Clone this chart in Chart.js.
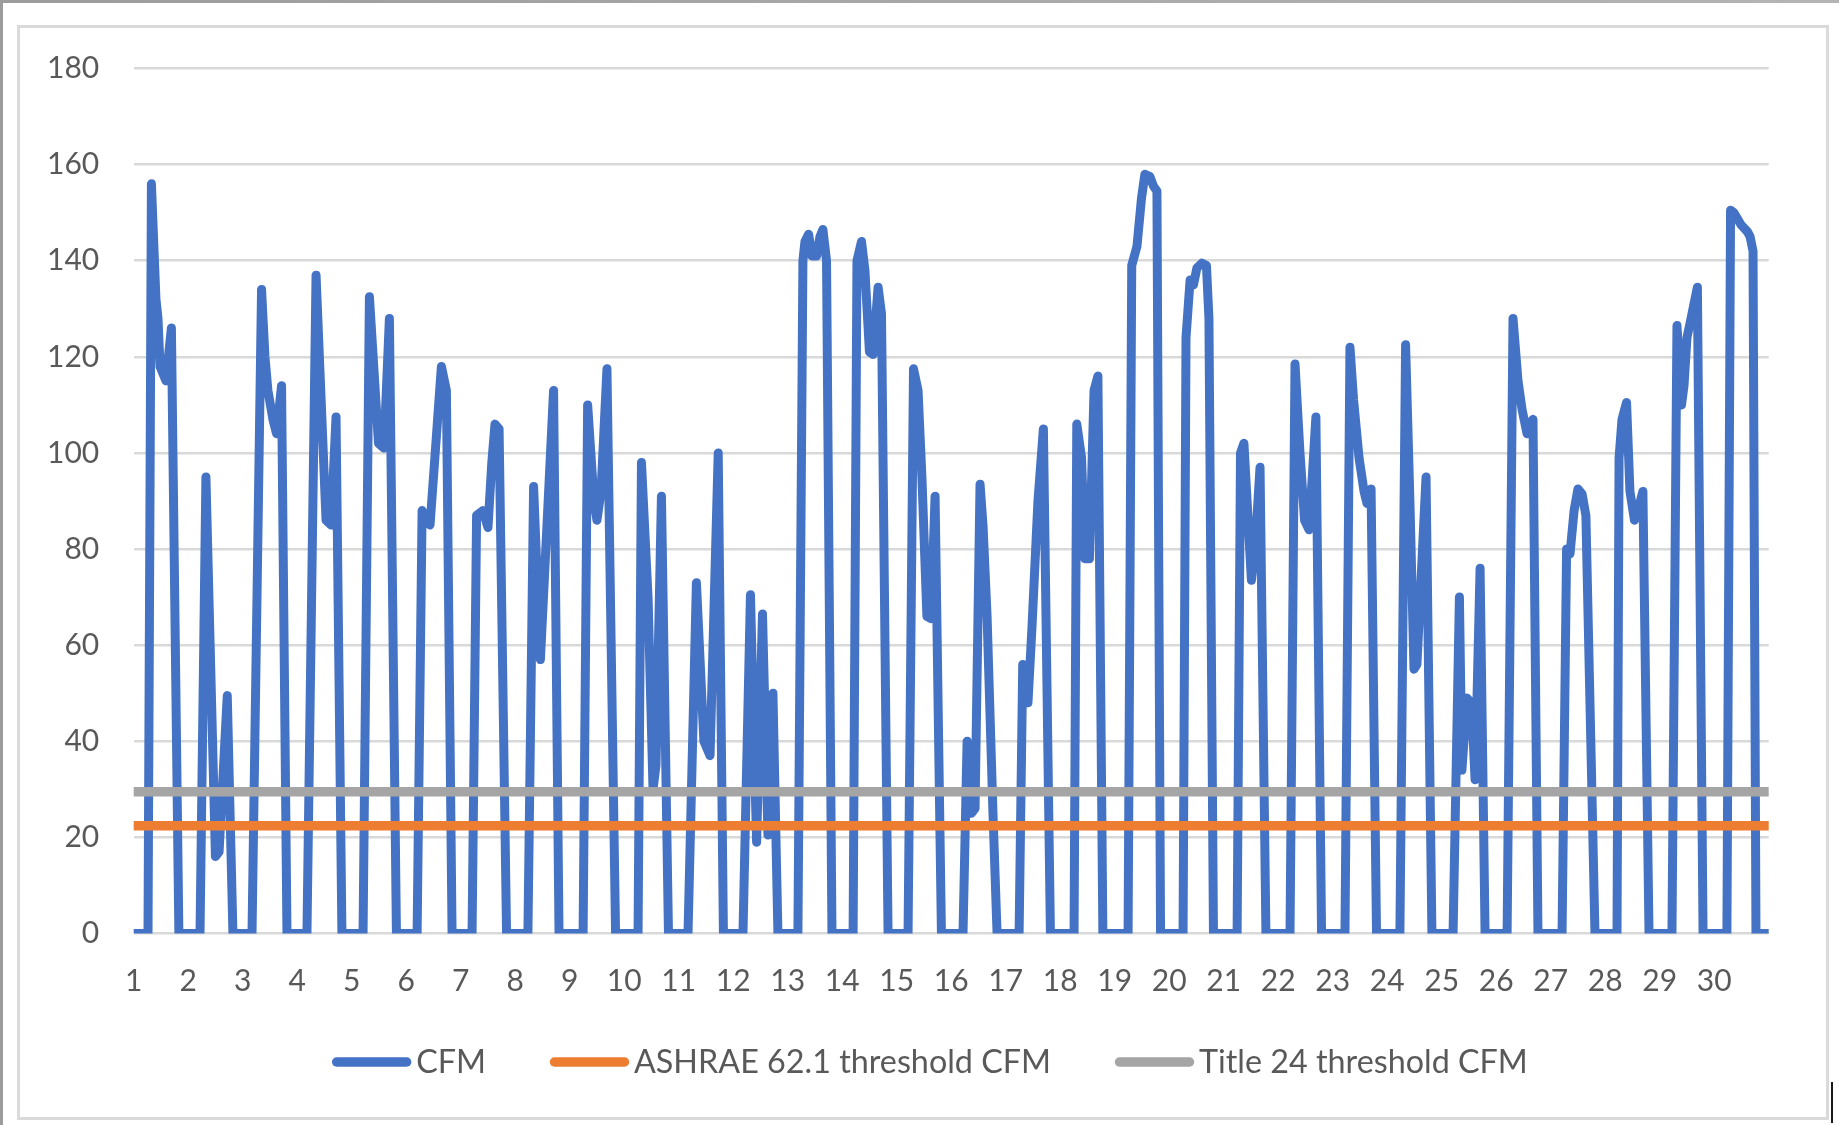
<!DOCTYPE html>
<html>
<head>
<meta charset="utf-8">
<title>Daily CFM vs. ventilation thresholds</title>
<script src="https://cdn.jsdelivr.net/npm/chart.js@4/dist/chart.umd.min.js"></script>
<style>
  html, body { margin: 0; padding: 0; background: #ffffff; }
  body { width: 1839px; height: 1125px; position: relative; overflow: hidden; }
  .edge-top { position: absolute; left: 0; top: 0; width: 1839px; height: 3px; background: linear-gradient(90deg, #9c9c9c, #b4b4b4); }
  .edge-left { position: absolute; left: 0; top: 0; width: 3px; height: 1125px; background: #9c9c9c; }
  .frame { position: absolute; left: 17px; top: 25px; width: 1812px; height: 1095px; box-sizing: border-box; border: 3px solid #dadada; }
  .caret { position: absolute; left: 1831px; top: 1082px; width: 2px; height: 41px; background: #1a1a1a; }
  canvas { position: absolute; left: 0; top: 0; }
</style>
</head>
<body>
<div class="edge-top"></div>
<div class="edge-left"></div>
<div class="frame"></div>
<div class="caret"></div>
<canvas id="chart" width="1839" height="1125"></canvas>
<script>
// Day-of-month labels along the x axis
const dayLabels = ['1','2','3','4','5','6','7','8','9','10','11','12','13','14','15',
                   '16','17','18','19','20','21','22','23','24','25','26','27','28','29','30'];

const seriesNames = ['CFM', 'ASHRAE 62.1 threshold CFM', 'Title 24 threshold CFM'];
const seriesColors = ['#4472C4', '#ED7D31', '#A5A5A5'];

// Measured airflow, one list per day: [hour of day, CFM]
const cfmByDay = [
  [[0,0],[6.3,0],[7.8,156],[9.8,132],[10.7,128],[11.6,118],[14.2,115],[16.6,126],[19.9,0]],
  [[5.2,0],[7.8,95],[12.0,16],[13.6,17],[17.2,49.5],[19.7,0]],
  [[4.1,0],[8.3,134],[9.8,120],[11.1,113],[13.3,107],[14.9,104],[17.1,114],[19.5,0]],
  [[4.3,0],[8.3,137],[12.7,86],[14.9,85],[17.1,107.5],[19.7,0]],
  [[5.0,0],[7.8,132.5],[11.8,102],[14.2,101],[16.6,128],[19.7,0]],
  [[4.8,0],[7.0,88],[10.5,85],[15.5,118],[17.7,113],[20.2,0]],
  [[5.0,0],[7.0,87],[9.8,88],[12.0,84.5],[13.7,98],[15.1,106],[16.9,105],[20.2,0]],
  [[5.6,0],[8.1,93],[11.1,57],[16.9,113],[19.3,0]],
  [[5.9,0],[7.9,110],[10.7,90],[12.0,86],[13.8,92],[16.4,117.5],[20.2,0]],
  [[6.1,0],[7.6,98],[10.5,70],[12.7,30],[14.0,35],[16.4,91],[19.5,0]],
  [[4.1,0],[7.8,73],[11.1,40],[13.8,37],[17.4,100],[19.7,0]],
  [[4.3,0],[7.6,70.5],[10.3,19],[12.9,66.5],[15.3,20.5],[17.5,50],[19.7,0]],
  [[4.5,0],[6.7,140],[7.6,144],[9.2,145.5],[10.7,141],[12.7,141],[14.2,145],[15.5,146.5],[17.1,140],[19.5,0]],
  [[4.8,0],[6.5,140],[8.5,144],[10.0,138],[12.0,121],[13.6,120.5],[15.8,134.5],[17.3,129],[20.2,0]],
  [[5.0,0],[7.4,117.5],[9.4,113],[11.1,95],[13.3,66],[15.1,65.5],[16.9,91],[19.7,0]],
  [[5.2,0],[7.0,40],[8.9,25],[10.5,26],[12.7,93.5],[14.0,85],[15.8,66],[18.4,25],[20.2,0]],
  [[5.9,0],[7.5,56],[9.8,48],[11.6,64],[14.2,90],[16.6,105],[19.7,0]],
  [[6.1,0],[7.3,106],[9.4,99],[10.9,78],[12.9,78],[14.9,113],[16.6,116],[18.8,0]],
  [[5.9,0],[7.5,139],[9.8,143],[11.8,153],[13.3,158],[15.5,157.5],[17.1,155.5],[18.6,154.5],[20.2,0]],
  [[6.1,0],[7.4,124],[9.2,136],[10.7,135],[12.2,138.5],[14.4,139.5],[16.4,139],[17.5,128],[19.5,0]],
  [[5.9,0],[7.4,100],[8.9,102],[12.2,73.5],[13.8,80],[16.0,97],[18.6,0]],
  [[5.2,0],[7.4,118.5],[9.6,100],[11.6,86],[13.6,84],[16.6,107.5],[19.1,0]],
  [[5.4,0],[7.6,122],[9.2,111],[11.6,99],[13.8,92],[15.1,89.5],[16.9,92.5],[19.3,0]],
  [[5.6,0],[8.1,122.5],[10.0,90],[11.8,55],[13.1,56],[17.1,95],[19.7,0]],
  [[5.0,0],[7.8,70],[8.9,34],[11.1,49],[13.1,48],[14.7,32],[16.9,76],[19.1,0]],
  [[4.8,0],[7.4,128],[9.6,115],[11.4,109],[13.6,104],[16.2,107],[18.4,0]],
  [[5.0,0],[7.0,80],[8.5,79],[10.3,88],[12.0,92.5],[13.8,91.5],[15.5,87],[19.5,0]],
  [[5.2,0],[6.1,99],[7.4,107],[9.4,110.5],[10.9,92],[12.9,86],[14.4,88],[16.6,92],[19.3,0]],
  [[5.4,0],[7.6,126.5],[9.6,110],[10.7,114],[12.0,124],[13.8,128],[16.6,134.5],[19.1,0]],
  [[5.6,0],[7.2,150.5],[8.7,150],[11.8,147.5],[14.7,146],[15.8,145],[17.1,142],[18.4,0],[24,0]]
];

// Ventilation thresholds (CFM)
const ashraeThreshold = 22.4;
const title24Threshold = 29.5;

// Period covered: start of day 1 to end of day 30
const periodStart = 1;
const periodEnd = 31;

const FONT = 'Lato, "Open Sans", sans-serif';
const FONT_SIZE = 30;
const LEGEND_FONT_SIZE = 32.3;
const TEXT_COLOR = '#595959';

// Convert each day's [hour, cfm] readings to x = day + hour/24
const cfmPoints = [];
cfmByDay.forEach((readings, i) => {
  readings.forEach(([hour, value]) => cfmPoints.push({ x: i + 1 + hour / 24, y: value }));
});

const flatLine = v => [{ x: periodStart, y: v }, { x: periodEnd, y: v }];

// Legend drawn below the plot: line swatch immediately followed by its label
const bottomLegend = {
  id: 'bottomLegend',
  afterDraw(chart) {
    const ctx = chart.ctx;
    const swatch = 79, swatchGap = 5, itemGap = 64, centerX = 930, midY = 1062, baseY = 1073;
    ctx.save();
    ctx.font = `${LEGEND_FONT_SIZE}px ${FONT}`;
    const items = chart.data.datasets.map(ds => ({
      label: ds.label, color: ds.borderColor, w: ctx.measureText(ds.label).width
    }));
    const total = items.reduce((s, it) => s + swatch + swatchGap + it.w, 0) + itemGap * (items.length - 1);
    let x = centerX - total / 2;
    items.forEach(it => {
      ctx.strokeStyle = it.color;
      ctx.lineWidth = 9.5;
      ctx.lineCap = 'round';
      ctx.beginPath();
      ctx.moveTo(x + 4.5, midY);
      ctx.lineTo(x + swatch - 4.5, midY);
      ctx.stroke();
      ctx.fillStyle = TEXT_COLOR;
      ctx.textBaseline = 'alphabetic';
      ctx.textAlign = 'left';
      ctx.fillText(it.label, x + swatch + swatchGap, baseY);
      x += swatch + swatchGap + it.w + itemGap;
    });
    ctx.restore();
  }
};

new Chart(document.getElementById('chart'), {
  type: 'line',
  data: {
    datasets: [
      {
        label: seriesNames[0], data: cfmPoints, borderColor: seriesColors[0], backgroundColor: seriesColors[0],
        borderWidth: 9, pointRadius: 0, tension: 0, borderJoinStyle: 'round', borderCapStyle: 'round', order: 3
      },
      {
        label: seriesNames[1], data: flatLine(ashraeThreshold), borderColor: seriesColors[1], backgroundColor: seriesColors[1],
        borderWidth: 9.5, pointRadius: 0, borderCapStyle: 'round', order: 2
      },
      {
        label: seriesNames[2], data: flatLine(title24Threshold), borderColor: seriesColors[2], backgroundColor: seriesColors[2],
        borderWidth: 9.5, pointRadius: 0, borderCapStyle: 'round', order: 1
      }
    ]
  },
  options: {
    responsive: false,
    animation: false,
    devicePixelRatio: 1,
    layout: { padding: { left: 33.7, top: 68.5, right: 70.3, bottom: 91.5 } },
    plugins: { legend: { display: false }, tooltip: { enabled: false } },
    scales: {
      x: {
        type: 'linear', min: periodStart, max: periodEnd,
        grid: { display: false, drawTicks: false },
        border: { display: false },
        afterBuildTicks: s => { s.ticks = dayLabels.map(l => ({ value: Number(l) })); },
        afterFit: s => { s.height = 100; },
        ticks: {
          autoSkip: false, maxRotation: 0, padding: 30,
          color: TEXT_COLOR, font: { family: FONT, size: FONT_SIZE },
          callback: (v, i) => dayLabels[i]
        }
      },
      y: {
        min: 0, max: 180,
        grid: { color: '#d9d9d9', lineWidth: 2.5, drawTicks: false },
        border: { display: false },
        afterFit: s => { s.width = 100; },
        ticks: {
          stepSize: 20, padding: 34.5,
          color: TEXT_COLOR, font: { family: FONT, size: FONT_SIZE }
        }
      }
    }
  },
  plugins: [bottomLegend]
});
</script>
</body>
</html>
